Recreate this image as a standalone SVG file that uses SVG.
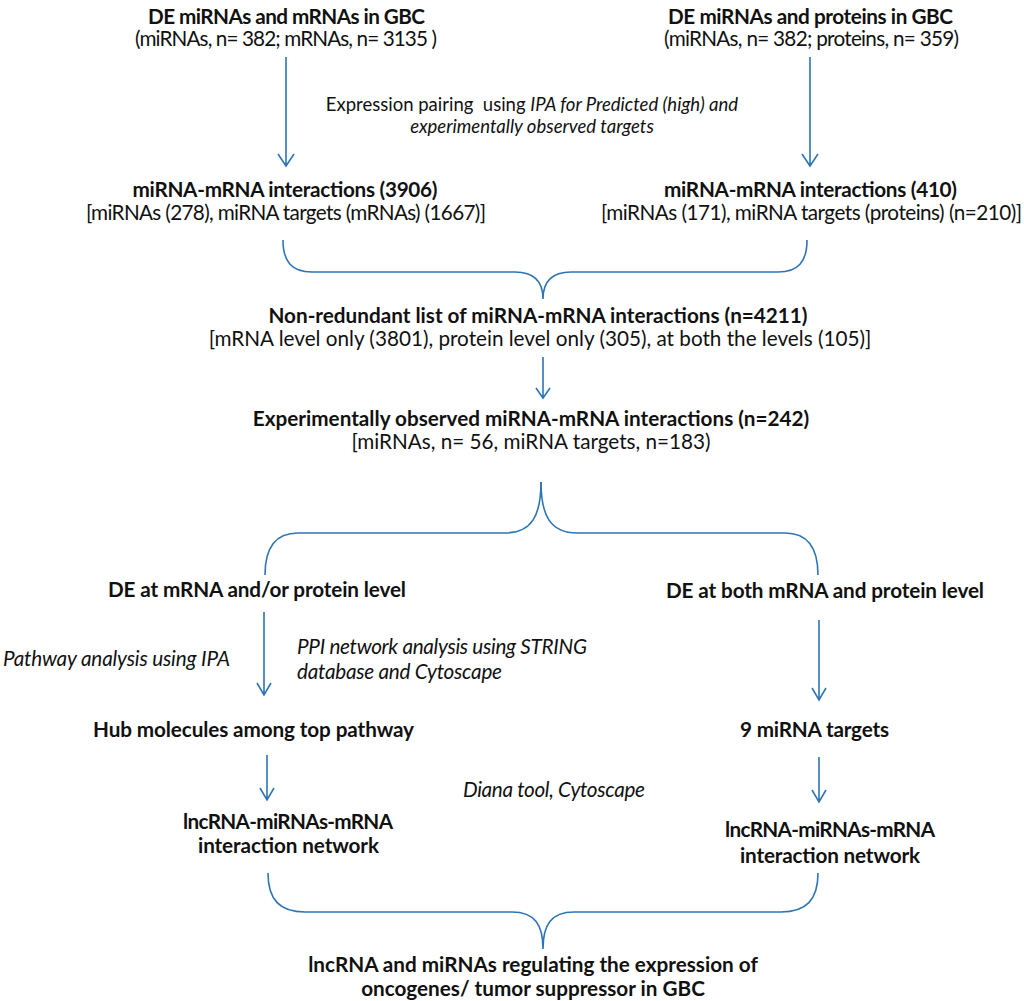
<svg xmlns="http://www.w3.org/2000/svg" width="1024" height="1001" viewBox="0 0 1024 1001">
<defs>
<style>
.t{font-family:Lato,"Open Sans","Liberation Sans",sans-serif;font-size:20.7px;fill:#111;text-anchor:middle}
.s{font-size:18.5px}
.b{font-weight:bold}
.i{font-style:italic}
.c{fill:none;stroke:#2E75B6;stroke-width:1.6}
</style>
</defs>
<rect width="1024" height="1001" fill="#fff"/>
<g id="connectors">
<path class="c" d="M286,57 V166 M278,154 L286,166 L294,154"/>
<path class="c" d="M810,57 V166 M802,154 L810,166 L818,154"/>
<path class="c" d="M283,240 C283,262 292,272 312,272 L515,272 C535,272 543,282 543,299 C543,282 551,272 571,272 L778,272 C798,272 807,262 807,240"/>
<path class="c" d="M543,357 V398 M536,388 L543,398 L550,388"/>
<path class="c" d="M541,482 C541,515 532,533 505,533 L298,533 C275,533 265,548 265,575"/>
<path class="c" d="M541,482 C541,515 550,533 577,533 L785,533 C808,533 818,548 818,575"/>
<path class="c" d="M264,612 V695 M257,683 L264,695 L271,683"/>
<path class="c" d="M819,620 V700 M812,688 L819,700 L826,688"/>
<path class="c" d="M267,755 V800 M260,788 L267,800 L274,788"/>
<path class="c" d="M819,757 V802 M812,790 L819,802 L826,790"/>
<path class="c" d="M268,873 C268,900 280,912 305,912 L512,912 C535,912 543,925 543,949 C543,925 551,912 574,912 L781,912 C806,912 818,900 818,873"/>
</g>
<g id="n1"><text class="t b" x="286.5" y="24" textLength="277">DE miRNAs and mRNAs in GBC</text><text class="t" x="286" y="46" textLength="302">(miRNAs, n= 382; mRNAs, n= 3135 )</text></g>
<g id="n2"><text class="t b" x="810.5" y="24" textLength="285">DE miRNAs and proteins in GBC</text><text class="t" x="811.5" y="46" textLength="295">(miRNAs, n= 382; proteins, n= 359)</text></g>
<g id="lbl1"><text class="t s" x="532" y="111" xml:space="preserve">Expression pairing  using <tspan class="i">IPA for Predicted (high) and</tspan></text><text class="t s i" x="532" y="133">experimentally observed targets</text></g>
<g id="n3"><text class="t b" x="285" y="197" textLength="305">miRNA-mRNA interactions (3906)</text><text class="t" x="286" y="220" textLength="400">[miRNAs (278), miRNA targets (mRNAs) (1667)]</text></g>
<g id="n4"><text class="t b" x="810.5" y="197" textLength="293">miRNA-mRNA interactions (410)</text><text class="t" x="811.5" y="220" textLength="421">[miRNAs (171), miRNA targets (proteins) (n=210)]</text></g>
<g id="n5"><text class="t b" x="538" y="323">Non-redundant list of miRNA-mRNA interactions (n=4211)</text><text class="t" x="540" y="346">[mRNA level only (3801), protein level only (305), at both the levels (105)]</text></g>
<g id="n6"><text class="t b" x="531" y="426">Experimentally observed miRNA-mRNA interactions (n=242)</text><text class="t" x="531" y="449">[miRNAs, n= 56, miRNA targets, n=183)</text></g>
<g id="n7"><text class="t b" x="257" y="597" textLength="298">DE at mRNA and/or protein level</text></g>
<g id="n8"><text class="t b" x="825" y="598" textLength="318">DE at both mRNA and protein level</text></g>
<g id="lbl2"><text class="t i" x="116.5" y="666" textLength="227">Pathway analysis using IPA</text></g>
<g id="lbl3"><text class="t i" x="442" y="654" textLength="290">PPI network analysis using STRING</text><text class="t i" x="399.5" y="679" textLength="205">database and Cytoscape</text></g>
<g id="n9"><text class="t b" x="253.5" y="737" textLength="321">Hub molecules among top pathway</text></g>
<g id="n10"><text class="t b" x="814.5" y="737" textLength="149">9 miRNA targets</text></g>
<g id="lbl4"><text class="t i" x="554" y="797" textLength="182">Diana tool, Cytoscape</text></g>
<g id="n11"><text class="t b" x="288" y="829" textLength="210">lncRNA-miRNAs-mRNA</text><text class="t b" x="288.5" y="853" textLength="181">interaction network</text></g>
<g id="n12"><text class="t b" x="830" y="837" textLength="210">lncRNA-miRNAs-mRNA</text><text class="t b" x="830" y="863" textLength="180">interaction network</text></g>
<g id="n13"><text class="t b" x="533" y="972">lncRNA and miRNAs regulating the expression of</text><text class="t b" x="533" y="996">oncogenes/ tumor suppressor in GBC</text></g>
</svg>
